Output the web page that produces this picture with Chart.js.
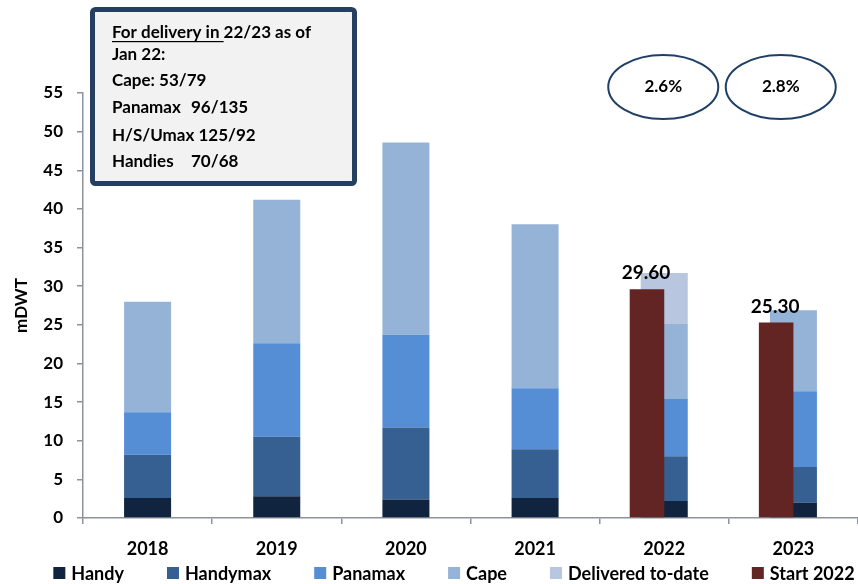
<!DOCTYPE html>
<html>
<head>
<meta charset="utf-8">
<script src="https://cdn.jsdelivr.net/npm/chart.js@4.4.1/dist/chart.umd.min.js"></script>
<style>
  html, body { margin: 0; padding: 0; background: #fff; }
  #wrap { width: 858px; height: 584px; position: relative; }
</style>
</head>
<body>
<div id="wrap"><canvas id="fleetChart"></canvas></div>
<script>
// values, mDWT
const years = ['2018', '2019', '2020', '2021', '2022', '2023'];
const handy = [2.6, 2.8, 2.4, 2.6, 2.2, 2.0];
const handymax = [5.6, 7.7, 9.3, 6.3, 5.8, 4.6];
const panamax = [5.5, 12.1, 12.0, 7.9, 7.4, 9.8];
const cape = [14.3, 18.6, 24.9, 21.2, 9.7, 10.5];
const deliveredToDate = [null, null, null, null, 6.6, null];
const start2022 = [null, null, null, null, 29.6, 25.3];
const yMax = 55;
const yStep = 5;
const growthLabels = ['2.6%', '2.8%'];
const orderbookNote = [
  ['For delivery in ', '22/23 as of'],
  ['Jan 22:'],
  ['Cape: 53/79'],
  ['Panamax', '96/135'],
  ['H/S/Umax 125/92'],
  ['Handies', '70/68']
];

const FONT = 'Lato, "Open Sans", sans-serif';
const axisGrey = '#8c939d';

const ctx = document.getElementById('fleetChart');

// box, ellipses, value labels and the legend
const annotations = {
    id: 'annotations',
    afterDatasetsDraw(chart) {
        const c = chart.ctx;
        const meta = chart.getDatasetMeta(5);
        c.save();
        c.font = 'bold 19px ' + FONT;
        c.fillStyle = '#000';
        c.textAlign = 'center';
        c.textBaseline = 'middle';
        meta.data.forEach((bar, i) => {
            if (start2022[i] === null) return;
            c.fillText(start2022[i].toFixed(2), bar.x - 1, bar.y - 16);
        });
        c.restore();
    },
    afterDraw(chart) {
        const c = chart.ctx;
        const area = chart.chartArea;
        c.save();

        // orderbook note
        c.beginPath();
        c.roundRect(92.5, 9.5, 262, 174, 3);
        c.fillStyle = '#f2f2f2';
        c.fill();
        c.lineWidth = 5;
        c.strokeStyle = '#243f60';
        c.stroke();

        c.font = 'bold 17px ' + FONT;
        c.fillStyle = '#000';
        c.textAlign = 'left';
        c.textBaseline = 'middle';
        const rows = [33, 55, 81, 108, 136, 162];
        orderbookNote.forEach((parts, i) => {
            const y = rows[i];
            if (i === 0) {
                c.fillText(parts[0], 112, y);
                const w = c.measureText(parts[0]).width;
                c.fillText(parts[1], 112 + w, y);
                c.fillRect(112, y + 8, w, 1.2);
            } else if (parts.length === 2) {
                c.fillText(parts[0], 112, y);
                c.fillText(parts[1], 191, y);
            } else {
                c.fillText(parts[0], 112, y);
            }
        });

        // growth ellipses
        const cx = chart.scales.x.getPixelForValue(4) - 1;
        const cy = area.top - 6;
        c.lineWidth = 2;
        c.strokeStyle = '#1f3f66';
        c.font = 'bold 17px ' + FONT;
        c.textAlign = 'center';
        growthLabels.forEach((txt, i) => {
            const x = cx + i * 117.5;
            c.beginPath();
            c.ellipse(x, cy, 55, 32, 0, 0, Math.PI * 2);
            c.stroke();
            c.fillText(txt, x, cy);
        });

        // legend
        const items = chart.data.datasets.filter(d => d.label);
        c.font = 'bold 18px ' + FONT;
        c.textAlign = 'left';
        const gap = 43;
        const widths = items.map(d => 12 + 6 + c.measureText(d.label).width);
        const total = widths.reduce((a, b) => a + b, 0) + gap * (items.length - 1);
        let lx = 454 - total / 2;
        const ly = 573;
        items.forEach((d, i) => {
            c.fillStyle = d.backgroundColor;
            c.fillRect(lx, ly - 6, 12, 12);
            c.fillStyle = '#000';
            c.fillText(d.label, lx + 18, ly + 1);
            lx += widths[i] + gap;
        });

        c.restore();
    }
};

// fleet segments sit centred on the year; Start 2022 takes the left half of a narrower group
const stackedBar = { stack: 'fleet', grouped: false, barPercentage: 0.364, categoryPercentage: 1.0, borderWidth: 0 };

const fleetChart = new Chart(ctx, {
    type: 'bar',
    data: {
        labels: years,
        datasets: [
            { ...stackedBar, label: 'Handy', data: handy, backgroundColor: '#10243f' },
            { ...stackedBar, label: 'Handymax', data: handymax, backgroundColor: '#366092' },
            { ...stackedBar, label: 'Panamax', data: panamax, backgroundColor: '#558ed5' },
            { ...stackedBar, label: 'Cape', data: cape, backgroundColor: '#95b3d7' },
            { ...stackedBar, label: 'Delivered to-date', data: deliveredToDate, backgroundColor: '#b9c6e0' },
            {
                label: 'Start 2022', data: start2022, backgroundColor: '#632523',
                stack: 'start', order: -1,
                barPercentage: 1.0, categoryPercentage: 0.535, borderWidth: 0
            },
            {
                // empty partner so the Start 2022 bar sits left of centre
                label: '', data: [null, null, null, null, null, null],
                stack: 'spacer',
                barPercentage: 1.0, categoryPercentage: 0.535
            }
        ]
    },
    options: {
        responsive: true,
        maintainAspectRatio: false,
        animation: false,
        layout: {
            padding: { top: 93, right: 0, bottom: 0, left: 0 }
        },
        scales: {
            x: {
                stacked: true,
                offset: true,
                grid: { offset: true, drawOnChartArea: false, tickLength: 6, color: axisGrey, lineWidth: 1.5 },
                border: { color: axisGrey, width: 1.5 },
                ticks: { color: '#000', font: { family: FONT, size: 18, weight: 'bold' }, padding: 14 },
                afterFit: s => { s.height = 66; }
            },
            y: {
                stacked: true,
                min: 0,
                max: yMax,
                grid: { drawOnChartArea: false, tickLength: 6, color: axisGrey, lineWidth: 1.5 },
                border: { color: axisGrey, width: 1.5 },
                ticks: { stepSize: yStep, color: '#000', font: { family: FONT, size: 17, weight: 'bold' }, padding: 14 },
                title: {
                    display: true,
                    text: 'mDWT',
                    color: '#000',
                    font: { family: FONT, size: 17, weight: 'bold' },
                    padding: { top: 11, bottom: 0 }
                },
                afterFit: s => { s.width = 83; }
            }
        },
        plugins: {
            legend: { display: false },
            tooltip: { enabled: false }
        }
    },
    plugins: [annotations]
});
</script>
</body>
</html>
